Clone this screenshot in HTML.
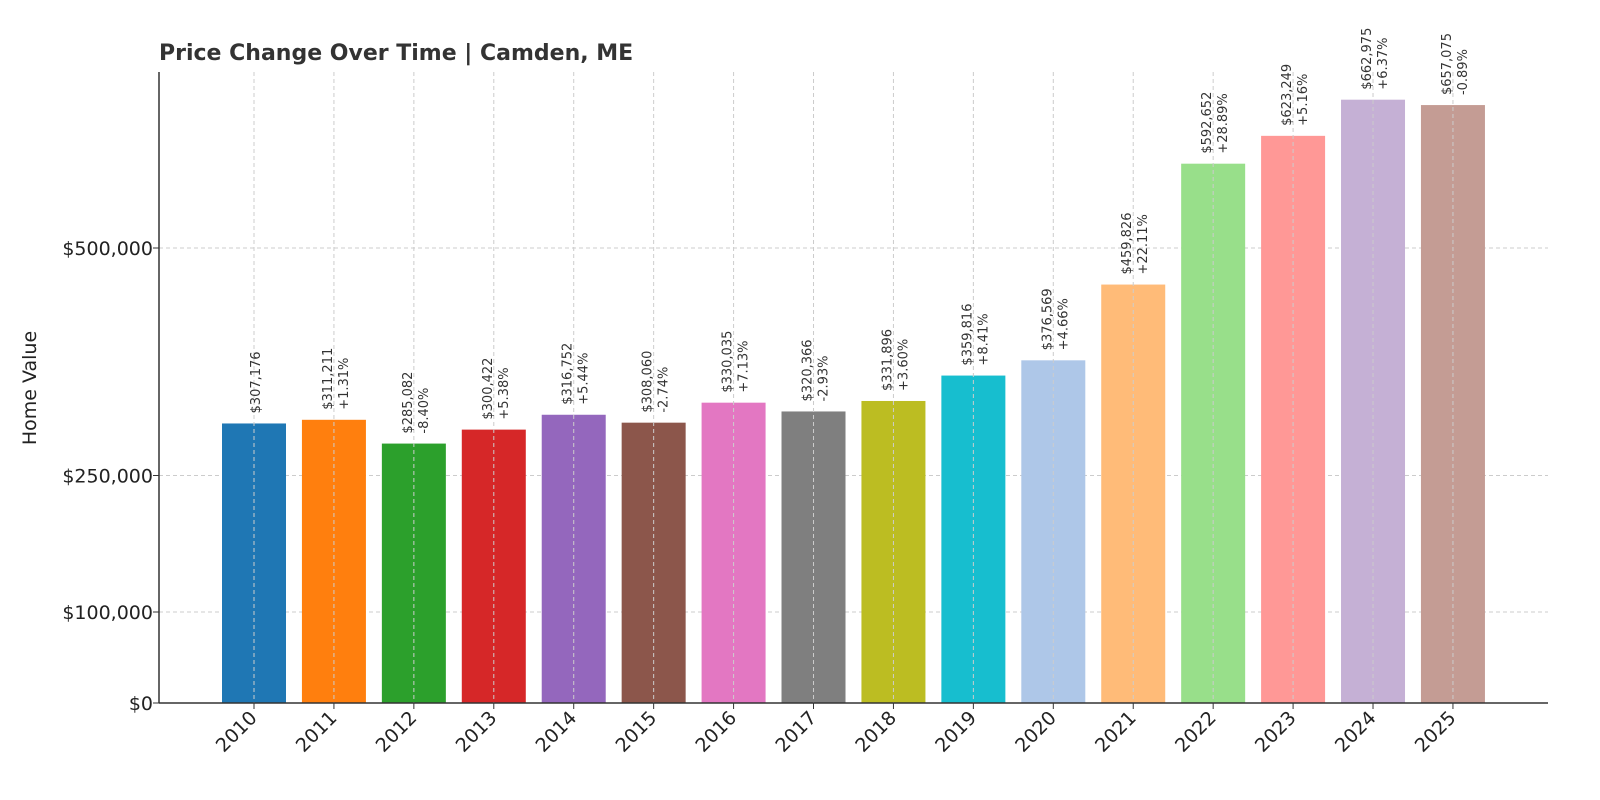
<!DOCTYPE html>
<html><head><meta charset="utf-8"><style>
body{margin:0;background:#fff}
svg{display:block;font-family:"DejaVu Sans","Liberation Sans",sans-serif}
</style></head><body>
<svg id="chart" width="1600" height="800">
<text x="159" y="60" font-size="22" font-weight="bold" fill="#333">Price Change Over Time | Camden, ME</text>
<text transform="translate(36,388) rotate(-90)" text-anchor="middle" font-size="19" fill="#222">Home Value</text>
<g id="grid"></g><g id="bars"></g><g id="labels"></g><g id="axes"></g>
</svg>
<script>
const years=["2010","2011","2012","2013","2014","2015","2016","2017","2018","2019","2020","2021","2022","2023","2024","2025"];
const values=[307176,311211,285082,300422,316752,308060,330035,320366,331896,359816,376569,459826,592652,623249,662975,657075];
const changes=["","+1.31%","-8.40%","+5.38%","+5.44%","-2.74%","+7.13%","-2.93%","+3.60%","+8.41%","+4.66%","+22.11%","+28.89%","+5.16%","+6.37%","-0.89%"];
const yTicks=[0,100000,250000,500000];
const yTickLabels=["$0","$100,000","$250,000","$500,000"];
const colors=["#1f77b4","#ff7f0e","#2ca02c","#d62728","#9467bd","#8c564b","#e377c2","#7f7f7f","#bcbd22","#17becf","#aec7e8","#ffbb78","#98df8a","#ff9896","#c5b0d5","#c49c94"];
const NS="http://www.w3.org/2000/svg";
const x0=159,x1=1548,yTop=72,yBase=703;
const y=v=>yBase-v*0.00091;
const xc=i=>254+i*79.93;
function mk(tag,attrs,parent,txt){const e=document.createElementNS(NS,tag);for(const k in attrs)e.setAttribute(k,attrs[k]);if(txt!==undefined)e.textContent=txt;document.getElementById(parent).appendChild(e);return e;}
const bw=64;
years.forEach((yr,i)=>{
  const b=mk("rect",{x:xc(i)-bw/2,y:y(values[i]),width:bw,height:yBase-y(values[i]),fill:colors[i]},"bars");
  
  
  const g=mk("line",{x1:xc(i),x2:xc(i),y1:yTop,y2:yBase,stroke:"#ccc","stroke-dasharray":"4,3","stroke-width":1},"labels");
  
  
  const top=y(values[i])-10;
  const price="$"+values[i].toLocaleString("en-US");
  if(changes[i]){
    const t1=mk("text",{transform:`translate(${xc(i)-2},${top}) rotate(-90)`,"font-size":13,fill:"#333"},"labels",price);
    
    
    const t2=mk("text",{transform:`translate(${xc(i)+14},${top}) rotate(-90)`,"font-size":13,fill:"#333"},"labels",changes[i]);
    
    
  } else {
    const t1=mk("text",{transform:`translate(${xc(i)+6},${top}) rotate(-90)`,"font-size":13,fill:"#333"},"labels",price);
    
    
  }
  const tk=mk("line",{x1:xc(i),x2:xc(i),y1:yBase,y2:yBase+6,stroke:"#333"},"axes");
  
  
  const xl=mk("text",{transform:`translate(${xc(i)+4},${yBase+16}) rotate(-45)`,"text-anchor":"end","font-size":19,fill:"#222"},"axes",yr);
  
  
});
yTicks.forEach((v,i)=>{
  if(v>0){const gl=mk("line",{x1:x0,x2:x1,y1:y(v),y2:y(v),stroke:"#ccc","stroke-dasharray":"4,3"},"grid");
  
  }
  const tk=mk("line",{x1:x0-6,x2:x0,y1:y(v),y2:y(v),stroke:"#333"},"axes");
  
  
  const tl=mk("text",{x:x0-6,y:y(v)+7,"text-anchor":"end","font-size":19,fill:"#222"},"axes",yTickLabels[i]);
  
  
});
const ya=mk("line",{x1:x0,x2:x0,y1:yTop,y2:yBase,stroke:"#333","stroke-width":1.5},"axes");


const xa=mk("line",{x1:x0,x2:x1,y1:yBase,y2:yBase,stroke:"#333","stroke-width":1.5},"axes");


</script>
</body></html>
